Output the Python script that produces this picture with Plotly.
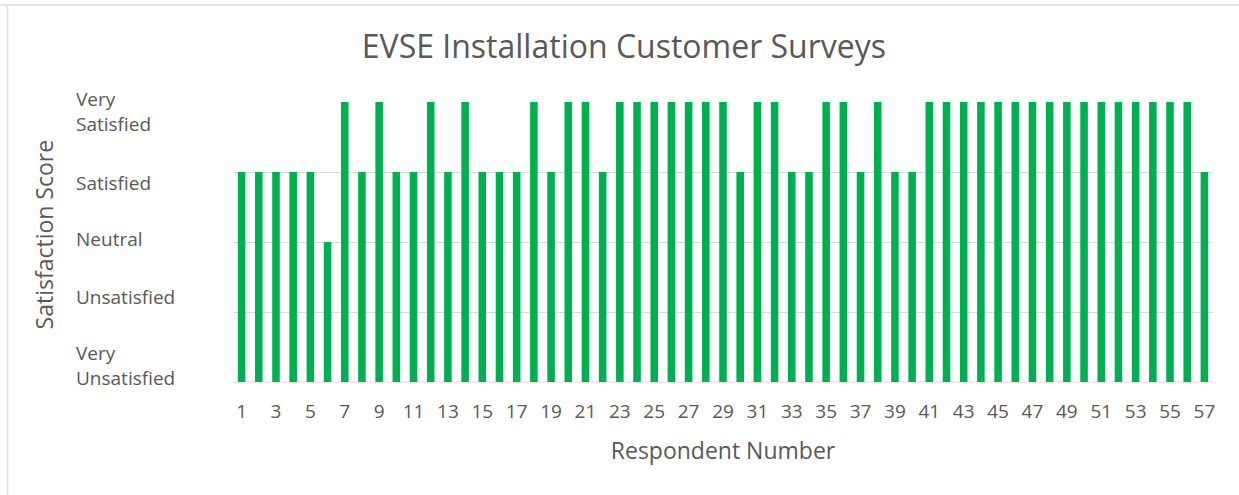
import plotly.graph_objects as go

respondents = list(range(1, 58))
scores = [4, 4, 4, 4, 4, 3, 5, 4, 5, 4,
          4, 5, 4, 5, 4, 4, 4, 5, 4, 5,
          5, 4, 5, 5, 5, 5, 5, 5, 5, 4,
          5, 5, 4, 4, 5, 5, 4, 5, 4, 4,
          5, 5, 5, 5, 5, 5, 5, 5, 5, 5,
          5, 5, 5, 5, 5, 5, 4]
x_ticks = list(range(1, 58, 2))
score_labels = ["Very<br>Unsatisfied", "Unsatisfied", "Neutral", "Satisfied", "Very<br>Satisfied"]
label_pos = [1.23, 2.21, 3.04, 3.84, 4.86]

FONT = "Open Sans"
GREY = "#595959"

W, H = 1239, 495
L, R, T, B = 233.4, 1212.6, 102, 382
pw, ph = R - L, B - T

def px(x):
    return (x - L) / pw

def py(y):
    return (B - y) / ph

fig = go.Figure()
fig.add_trace(go.Bar(x=respondents, y=scores, marker=dict(color="#00B050", line=dict(width=0)),
                     width=0.44, hoverinfo="x+y"))

annotations = []
for lab, pos in zip(score_labels, label_pos):
    annotations.append(dict(text=lab, x=px(75), xref="paper", y=pos, yref="y",
                            xanchor="left", yanchor="middle", align="left", showarrow=False,
                            font=dict(family=FONT, size=19, color=GREY)))
annotations.append(dict(text="Satisfaction Score", x=px(45), xref="paper", y=py(234), yref="paper",
                        xanchor="center", yanchor="middle", textangle=-90, showarrow=False,
                        font=dict(family=FONT, size=23, color=GREY)))

fig.update_layout(
    width=W, height=H,
    margin=dict(l=L, r=W - R, t=T, b=H - B, pad=0),
    paper_bgcolor="white", plot_bgcolor="white",
    showlegend=False,
    title=dict(text="EVSE Installation Customer Surveys", x=px(624), xref="paper", xanchor="center",
               y=1 - 47 / H, yref="container", yanchor="middle",
               font=dict(family=FONT, size=32, color=GREY)),
    xaxis=dict(range=[0.5, 57.5], tickmode="array", tickvals=x_ticks, ticktext=[str(v) for v in x_ticks],
               showgrid=False, zeroline=False, showline=False,
               ticks="outside", ticklen=12, tickcolor="rgba(0,0,0,0)",
               tickfont=dict(family=FONT, size=19, color=GREY),
               title=dict(text="Respondent Number", standoff=20, font=dict(family=FONT, size=23, color=GREY))),
    yaxis=dict(range=[1, 5], tickvals=[1, 2, 3, 4, 5], showticklabels=False,
               showgrid=True, gridcolor="#d9d9d9", gridwidth=1, zeroline=False, showline=False),
    annotations=annotations,
    shapes=[
        dict(type="line", xref="paper", yref="paper", x0=px(0), x1=px(W), y0=py(5), y1=py(5),
             line=dict(color="#e3e3e3", width=2)),
        dict(type="line", xref="paper", yref="paper", x0=px(8), x1=px(8), y0=py(5), y1=py(H),
             line=dict(color="#e3e3e3", width=2)),
        dict(type="line", xref="paper", yref="paper", x0=0, x1=1, y0=0, y1=0,
             line=dict(color="#d9d9d9", width=1), layer="below"),
    ],
)

fig.write_html("out.html", config={"displayModeBar": False},
               post_script="document.body.style.margin='0';document.body.style.overflow='hidden';")
